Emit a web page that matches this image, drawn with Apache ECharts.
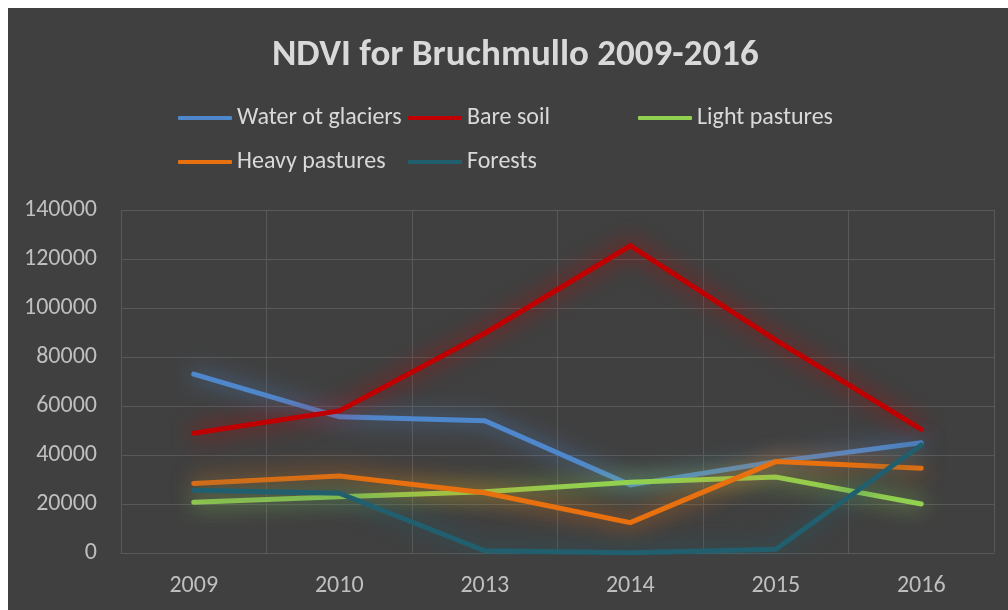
<!DOCTYPE html>
<html>
<head>
<meta charset="utf-8">
<script src="https://cdn.jsdelivr.net/npm/echarts@6/dist/echarts.min.js"></script>
<style>
	html, body { margin: 0; padding: 0; background: #ffffff; }
	#main { position: absolute; left: 8px; top: 8px; width: 1000px; height: 602px; }
</style>
</head>
<body>
<div id="main"></div>
<script>
	// categories and values
	const years = ['2009', '2010', '2013', '2014', '2015', '2016'];
	const waterGlaciers = [73000, 55600, 54000, 27800, 37300, 45000];
	const bareSoil = [48900, 58000, 89700, 125400, 86900, 50500];
	const lightPastures = [20700, 23000, 25000, 28900, 31000, 20000];
	const heavyPastures = [28400, 31400, 24600, 12400, 37300, 34600];
	const forests = [25600, 24400, 900, 100, 1500, 44100];
	const yTicks = [0, 20000, 40000, 60000, 80000, 100000, 120000, 140000];

	const font = 'Carlito, "Open Sans", sans-serif';
	const names = ['Water ot glaciers', 'Bare soil', 'Light pastures', 'Heavy pastures', 'Forests'];
	const colors = ['#4f87cc', '#c00000', '#92d050', '#e8700e', '#215f6e'];
	const values = [waterGlaciers, bareSoil, lightPastures, heavyPastures, forests];
	// legend slots (left, top)
	const slots = [[165, 93], [395, 93], [625, 93], [165, 137], [395, 137]];

	const chart = echarts.init(document.getElementById('main'));

	chart.setOption({
		backgroundColor: '#404040',
		animation: false,
		title: {
			text: 'NDVI for Bruchmullo 2009-2016',
			left: 259,
			top: 24,
			textStyle: { color: '#d9d9d9', fontSize: 37, fontWeight: 'bold', fontFamily: font }
		},
		legend: names.map((n, i) => ({
			data: [n],
			left: slots[i][0],
			top: slots[i][1],
			icon: 'roundRect',
			itemWidth: 54,
			itemHeight: 4,
			itemGap: 5,
			textStyle: { color: '#d9d9d9', fontSize: 24, fontFamily: font }
		})),
		grid: { left: 113, right: 14, top: 202, bottom: 57 },
		xAxis: {
			type: 'category',
			data: years,
			boundaryGap: true,
			axisLine: { show: true, lineStyle: { color: '#595959' } },
			axisTick: { show: false },
			splitLine: { show: true, lineStyle: { color: '#595959', width: 1 } },
			axisLabel: { color: '#bfbfbf', fontSize: 24, fontFamily: font, margin: 21 }
		},
		yAxis: {
			type: 'value',
			min: yTicks[0],
			max: yTicks[yTicks.length - 1],
			interval: yTicks[1] - yTicks[0],
			axisLine: { show: false },
			axisTick: { show: false },
			splitLine: { lineStyle: { color: '#595959', width: 1 } },
			axisLabel: { color: '#bfbfbf', fontSize: 24, fontFamily: font, margin: 24, formatter: v => String(v) }
		},
		series: names.map((n, i) => ({
			name: n,
			type: 'line',
			data: values[i],
			symbol: 'none',
			color: colors[i],
			lineStyle: {
				width: 5,
				color: colors[i],
				shadowColor: colors[i],
				shadowBlur: 22,
				cap: 'round',
				join: 'miter'
			}
		}))
	});
</script>
</body>
</html>
